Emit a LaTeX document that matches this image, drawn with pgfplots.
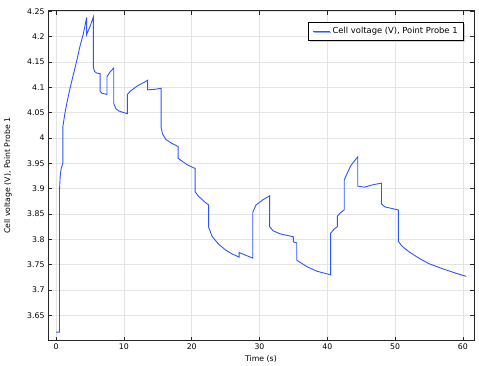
\documentclass[border=0pt]{standalone}
\usepackage{fontspec}
\setmainfont{DejaVu Sans}
\usepackage{pgfplots}
\pgfplotsset{compat=1.18}
\usetikzlibrary{shadows}
\definecolor{cblue}{RGB}{45,85,255}
\definecolor{gridc}{RGB}{228,228,228}
\begin{document}
\begin{tikzpicture}
\begin{axis}[
  scale only axis,
  width=426bp, height=330bp,
  xmin=-1.2, xmax=61.65,
  ymin=3.6, ymax=4.2512,
  xtick={0,10,...,60},
  ytick={3.65,3.7,3.75,3.8,3.85,3.9,3.95,4,4.05,4.1,4.15,4.2,4.25},
  yticklabels={3.65,3.7,3.75,3.8,3.85,3.9,3.95,4,4.05,4.1,4.15,4.2,4.25},
  tick align=inside,
  major tick length=4bp,
  grid=major,
  grid style={gridc, line width=0.6pt},
  axis line style={black!85, line width=0.8pt},
  tick style={black!85, line width=0.6pt},
  tick label style={font=\fontsize{7.8}{8}\selectfont},
  /pgf/number format/assume math mode=true,
  xlabel={Time (s)},
  ylabel={Cell voltage (V), Point Probe 1},
  label style={font=\fontsize{7.8}{8}\selectfont},
  xlabel style={at={(axis description cs:0.5,0)}, anchor=center, yshift=-18bp},
  ylabel style={at={(axis description cs:0,0.5)}, anchor=center, xshift=0bp, yshift=40bp},
  legend style={at={(1,1)}, anchor=north east, xshift=-10bp, yshift=-11.5bp,
    draw=black, line width=0.8pt, fill=white,
    font=\fontsize{8.4}{9}\selectfont,
    drop shadow={shadow xshift=1.2bp, shadow yshift=-1.2bp, fill=gray!70},
    inner xsep=4bp, inner ysep=3bp},
  legend cell align=left,
  legend image post style={line width=0.8pt},
]
\addplot[cblue, line width=0.9pt] coordinates {
(0,3.617) (0.5,3.617)
(0.5,3.899) (0.6,3.925) (0.75,3.94) (1.0,3.95)
(1.0,4.023) (1.3,4.049) (1.6,4.07) (2.0,4.095) (2.5,4.123) (3.0,4.15) (3.5,4.18) (4.0,4.205) (4.5,4.238)
(4.5,4.204) (5.0,4.22) (5.5,4.239)
(5.5,4.138) (5.7,4.131) (6.0,4.128) (6.5,4.127)
(6.5,4.092) (6.8,4.088) (7.2,4.087) (7.5,4.086)
(7.5,4.121) (8.0,4.131) (8.5,4.138)
(8.5,4.068) (8.8,4.058) (9.3,4.053) (10.0,4.05) (10.5,4.048)
(10.5,4.086) (11.0,4.093) (12.0,4.103) (13.0,4.11) (13.5,4.114)
(13.5,4.095) (14.5,4.096) (15.5,4.098)
(15.5,4.020) (15.7,4.008) (16.2,3.997) (17.0,3.99) (18.0,3.983)
(18.0,3.960) (18.5,3.955) (19.5,3.946) (20.5,3.94)
(20.5,3.894) (21.0,3.885) (22.0,3.873) (22.5,3.868)
(22.5,3.824) (23.0,3.806) (24.0,3.79) (25.0,3.779) (26.0,3.771) (27.0,3.765)
(27.0,3.774) (29.0,3.763)
(29.0,3.853) (29.5,3.868) (30.5,3.878) (31.5,3.886)
(31.5,3.825) (32.0,3.817) (33.0,3.811) (34.0,3.808) (35.0,3.805)
(35.0,3.795) (35.5,3.793)
(35.5,3.759) (37.0,3.746) (38.5,3.737) (40.5,3.730)
(40.5,3.812) (41.0,3.82) (41.5,3.825)
(41.5,3.846) (42.0,3.853) (42.5,3.858)
(42.5,3.917) (43.0,3.932) (43.5,3.946) (44.5,3.963)
(44.5,3.905) (45.5,3.903) (46.5,3.907) (48.0,3.911)
(48.0,3.870) (48.5,3.864) (49.5,3.861) (50.5,3.858)
(50.5,3.796) (51.0,3.787) (52.0,3.776) (53.5,3.763) (55.0,3.752) (57.0,3.742) (59.0,3.733) (60.5,3.727)
};
\addlegendentry{Cell voltage (V), Point Probe 1}
\end{axis}
\path[use as bounding box] (-48bp,-25.3bp) rectangle (431bp,340.7bp);
\end{tikzpicture}
\end{document}
